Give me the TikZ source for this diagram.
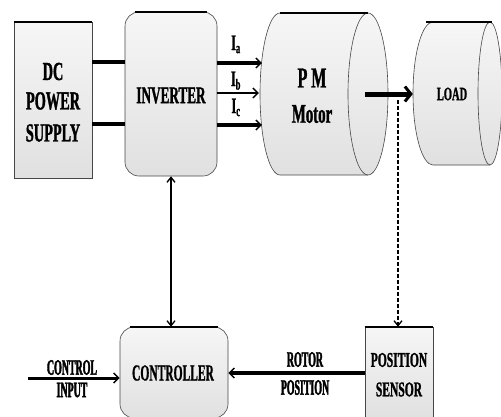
\documentclass[tikz,border=0pt]{standalone}
\usepackage{fontspec}
\newfontfamily\nar[FakeStretch=0.55,BoldFeatures={FakeBold=1.2}]{Liberation Serif}
\newfontfamily\narm[FakeStretch=0.5,BoldFeatures={FakeBold=0.8}]{Liberation Serif}
\newfontfamily\narr[FakeStretch=0.45,BoldFeatures={FakeBold=1.8}]{Liberation Serif}
\usetikzlibrary{arrows.meta}
\begin{document}
\begin{tikzpicture}[x=1pt,y=-1pt,
  boxfill/.style={top color=gray!7,bottom color=gray!24,draw=gray!55!black,line width=0.6pt,inner sep=0pt},
  topedge/.style={line width=1.8pt,black},
  lbl/.style={inner sep=0pt,anchor=center},
  conn/.style={line width=3.5pt,black},
  tipA/.style={-{Straight Barb[length=5pt,width=10pt,line width=1.4pt]}},
]
\useasboundingbox (0,0) rectangle (501,416);

% DC power supply
\node[boxfill,minimum width=78pt,minimum height=156pt] (dc) at (53,100) {};
\draw[topedge] (dc.north west) -- (dc.north east);
\node[lbl,font=\fontsize{26}{26}\selectfont\nar\bfseries] (dc1) at (53,71.5) {DC};
\node[lbl,font=\fontsize{26}{26}\selectfont\nar\bfseries] (dc2) at (53,101) {POWER};
\node[lbl,font=\fontsize{26}{26}\selectfont\nar\bfseries] (dc3) at (53,133) {SUPPLY};

% Inverter
\node[boxfill,rounded corners=14pt,minimum width=92pt,minimum height=164pt] (inv) at (171,94) {};
\draw[topedge] ([xshift=10pt]inv.north west) -- ([xshift=-10pt]inv.north east);
\node[lbl,font=\fontsize{24}{24}\selectfont\nar\bfseries] (invt) at (171,95.5) {INVERTER};

% PM motor cylinder
\path[boxfill] (280,13) -- (368,13)
  arc[start angle=-90,end angle=90,x radius=20,y radius=81]
  -- (280,175)
  arc[start angle=90,end angle=270,x radius=20,y radius=81] -- cycle;
\draw[gray!55!black,line width=0.6pt] (368,13) arc[start angle=-90,end angle=-270,x radius=20,y radius=81];
\draw[topedge] (280,13) -- (368,13);
\node[inner sep=0pt,minimum width=128pt,minimum height=162pt] (motor) at (324,94) {};
\node[lbl,font=\fontsize{29}{29}\selectfont\nar\bfseries] (pm1) at (312,78) {P M};
\node[lbl,font=\fontsize{27}{27}\selectfont\nar\bfseries] (pm2) at (312,114) {Motor};

% Load cylinder
\path[boxfill] (433,22) -- (490,22)
  arc[start angle=-90,end angle=90,x radius=12,y radius=71.5]
  -- (433,165)
  arc[start angle=90,end angle=270,x radius=20,y radius=71.5] -- cycle;
\draw[gray!55!black,line width=0.6pt] (490,22) arc[start angle=-90,end angle=-270,x radius=12,y radius=71.5];
\draw[topedge] (426,22) -- (492,22);
\node[inner sep=0pt,minimum width=89pt,minimum height=143pt] (load) at (457.5,93.5) {};
\node[lbl,font=\fontsize{19}{19}\selectfont\nar\bfseries] (loadt) at (452,94) {LOAD};

% Controller
\node[boxfill,rounded corners=14pt,minimum width=108pt,minimum height=91pt] (ctrl) at (174,372.5) {};
\draw[topedge] ([xshift=10pt]ctrl.north west) -- ([xshift=-10pt]ctrl.north east);
\node[lbl,font=\fontsize{23}{23}\selectfont\narm\bfseries] (ctrlt) at (173,373) {CONTROLLER};

% Position sensor
\node[boxfill,minimum width=68pt,minimum height=91pt] (sensor) at (399,372.5) {};
\draw[topedge] (sensor.north west) -- (sensor.north east);
\node[lbl,font=\fontsize{21}{21}\selectfont\nar\bfseries] (sen1) at (399,360) {POSITION};
\node[lbl,font=\fontsize{21}{21}\selectfont\nar\bfseries] (sen2) at (399,389.5) {SENSOR};

% DC -> inverter
\draw[conn,line width=4pt] (dc.east |- 0,62) -- (inv.west |- 0,62);
\draw[conn,line width=4pt] (dc.east |- 0,124) -- (inv.west |- 0,124);

% phase currents
\draw[conn,tipA] (inv.east |- 0,63) -- ([xshift=2pt]motor.west |- 0,63);
\draw[conn,line width=2.4pt,tipA] (inv.east |- 0,93) -- ([xshift=-1pt]motor.west |- 0,93);
\draw[conn,tipA] (inv.east |- 0,125) -- ([xshift=2pt]motor.west |- 0,125);
\node[inner sep=0pt,anchor=base,font=\fontsize{22}{22}\selectfont\nar\bfseries] (ia) at (236,50) {I\textsubscript{a}};
\node[inner sep=0pt,anchor=base,font=\fontsize{22}{22}\selectfont\nar\bfseries] (ib) at (236,86) {I\textsubscript{b}};
\node[inner sep=0pt,anchor=base,font=\fontsize{22}{22}\selectfont\nar\bfseries] (ic) at (236,113) {I\textsubscript{c}};

% shaft
\coordinate (shaft) at (365,94);
\draw[line width=5pt,-{Straight Barb[length=6pt,width=15pt,line width=3pt]}] (shaft) -- (load.west |- shaft);

% dashed sensing line
\coordinate (tap) at (398,100);
\draw[line width=1.1pt,dash pattern=on 4pt off 2pt,-{Straight Barb[length=5pt,width=8pt,line width=1.3pt]}] (tap) -- (tap |- sensor.north);

% inverter <-> controller
\draw[line width=1.4pt,{Straight Barb[length=5pt,width=8pt,line width=1.3pt]}-{Straight Barb[length=5pt,width=8pt,line width=1.3pt]}] (inv.south) -- (inv.south |- ctrl.north);

% rotor position
\draw[conn,line width=4pt,tipA] (sensor.west |- 0,373) -- (ctrl.east |- 0,373);
\node[lbl,font=\fontsize{22}{22}\selectfont\narr\bfseries] (rot1) at (305,359.5) {ROTOR};
\node[lbl,font=\fontsize{22}{22}\selectfont\narr\bfseries] (rot2) at (305,387.5) {POSITION};

% control input
\coordinate (cin) at (28,378);
\draw[conn,line width=3pt,tipA] (cin) -- (ctrl.west |- cin);
\node[lbl,font=\fontsize{22}{22}\selectfont\narr\bfseries] (ci1) at (72,367.5) {CONTROL};
\node[lbl,font=\fontsize{22}{22}\selectfont\narr\bfseries] (ci2) at (72,390) {INPUT};
\end{tikzpicture}
\end{document}
